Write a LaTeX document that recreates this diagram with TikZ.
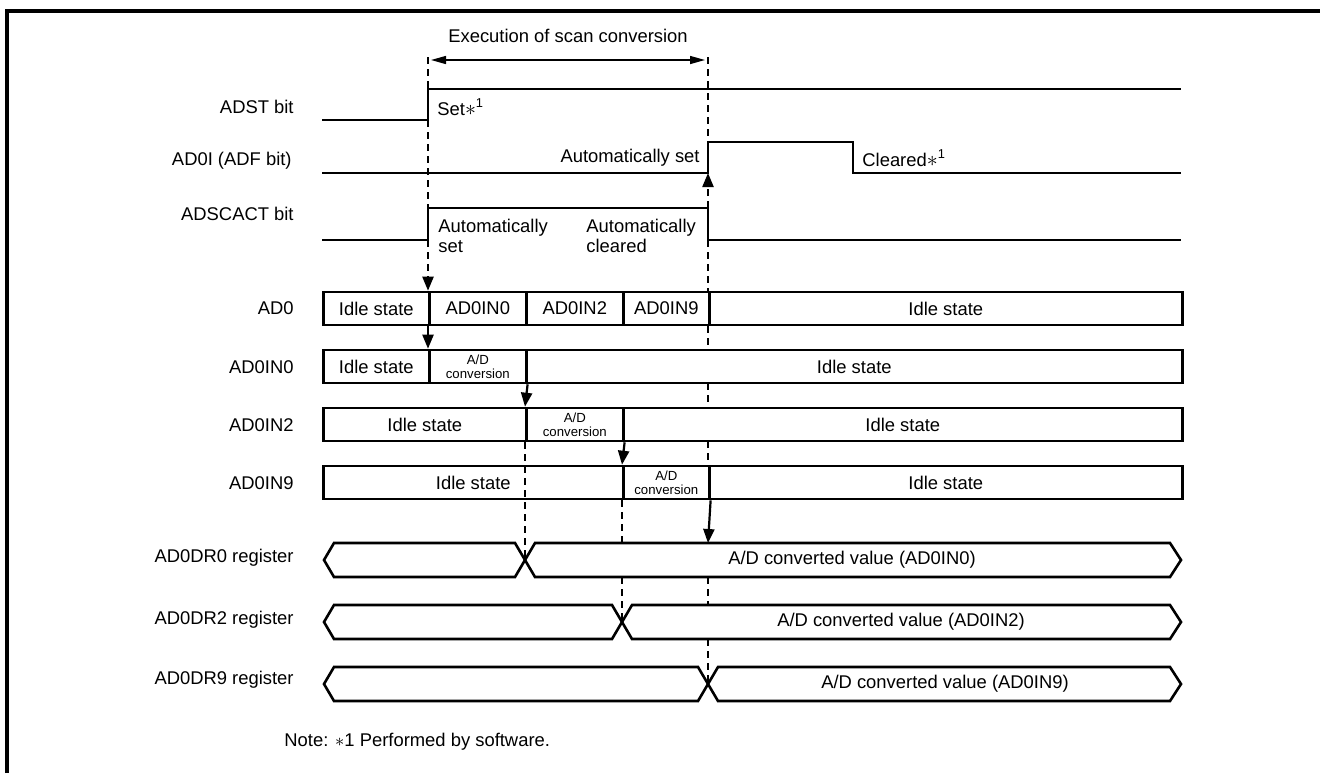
\documentclass[tikz,border=0pt]{standalone}
\usepackage{fontspec}
\setmainfont{Liberation Sans}
\usetikzlibrary{arrows.meta}

\newcommand{\swmark}{{\fontsize{11}{11}\selectfont$\ast$}\textsuperscript{1}}

\tikzset{
  sig/.style={line width=1.3pt},
  guide/.style={line width=1.1pt, dash pattern=on 3.5pt off 2.5pt},
  tip/.style={-{Triangle[length=7pt,width=5.5pt]}},
  flow/.style={line width=1.1pt, tip},
  cell/.style={draw, line width=1.3pt, anchor=west, minimum height=16.5pt, inner sep=0pt,
    font=\fontsize{9.2}{10}\selectfont},
  adc/.style={cell, font=\fontsize{6.6}{7}\selectfont, align=center},
  lbl/.style={anchor=east, inner sep=0pt, font=\fontsize{9.2}{10}\selectfont},
  txt/.style={inner sep=0pt, font=\fontsize{9.2}{10}\selectfont},
}

\begin{document}
\begin{tikzpicture}[x=0.5pt, y=-0.5pt]
  \useasboundingbox (0,0) rectangle (1320,773);
  \draw[line width=1.6pt] (7,773) -- (7,11) -- (1320,11);

  % signal names
  \node[lbl] (n-adst) at (294,107) {ADST bit};
  \node[lbl] (n-adf) at (292,161) {AD0I (ADF bit)};
  \node[lbl] (n-scact) at (294,214) {ADSCACT bit};
  \node[lbl] (n-ad0) at (294,308) {AD0};
  \node[lbl] (n-in0) at (294,367) {AD0IN0};
  \node[lbl] (n-in2) at (294,425) {AD0IN2};
  \node[lbl] (n-in9) at (294,483) {AD0IN9};
  \node[lbl] (n-dr0) at (294,558) {AD0DR0 register};
  \node[lbl] (n-dr2) at (294,620) {AD0DR2 register};
  \node[lbl] (n-dr9) at (294,680) {AD0DR9 register};

  % execution span
  \node[txt] (exec) at (568,36) {Execution of scan conversion};
  \coordinate (span-l) at (431,60);
  \coordinate (span-r) at (705,60);
  \draw[line width=0.7pt, {Triangle[length=7.5pt,width=4pt]}-{Triangle[length=7.5pt,width=4pt]}] (span-l) -- (span-r);

  % bit waveforms
  \draw[sig] (322,120) -- (428,120) -- (428,89) -- (1181,89);
  \node[txt, anchor=west] (t-set) at (437,107) {Set\swmark};
  \draw[sig] (322,173) -- (708,173) -- (708,142) -- (853,142) -- (853,173) -- (1181,173);
  \node[txt, anchor=east] (t-autoset) at (700,158) {Automatically set};
  \node[txt, anchor=west] (t-clr) at (862,158) {Cleared\swmark};
  \draw[sig] (322,240) -- (428,240) -- (428,208) -- (708,208) -- (708,240) -- (1181,240);
  \node[txt, anchor=west, align=left] (t-scset) at (438,236) {Automatically\\set};
  \node[txt, anchor=west, align=left] (t-scclr) at (586,236) {Automatically\\cleared};

  % AD0 channel sequence
  \node[cell, minimum width=53pt] (ad0-a) at (322,308.5) {Idle state};
  \node[cell, minimum width=48.5pt] (ad0-b) at (428,308.5) {AD0IN0};
  \node[cell, minimum width=48.5pt] (ad0-c) at (525,308.5) {AD0IN2};
  \node[cell, minimum width=43pt] (ad0-d) at (622,308.5) {AD0IN9};
  \node[cell, minimum width=236.5pt] (ad0-e) at (708,308.5) {Idle state};

  \node[cell, minimum width=53pt] (in0-a) at (322,366.5) {Idle state};
  \node[adc, minimum width=48.5pt] (in0-b) at (428,366.5) {A/D\\conversion};
  \node[cell, minimum width=328pt] (in0-c) at (525,366.5) {Idle state};

  \node[cell, minimum width=101.5pt] (in2-a) at (322,424.5) {Idle state};
  \node[adc, minimum width=48.5pt] (in2-b) at (525,424.5) {A/D\\conversion};
  \node[cell, minimum width=279.5pt] (in2-c) at (622,424.5) {Idle state};

  \node[cell, minimum width=150pt] (in9-a) at (322,482.5) {Idle state};
  \node[adc, minimum width=43pt] (in9-b) at (622,482.5) {A/D\\conversion};
  \node[cell, minimum width=236.5pt] (in9-c) at (708,482.5) {Idle state};

  % result registers
  \draw[sig] (324,560) -- (334,543) -- (515,543) -- (525,560) -- (515,577) -- (334,577) -- cycle;
  \draw[sig] (525,560) -- (535,543) -- (1170,543) -- (1181,560) -- (1170,577) -- (535,577) -- cycle;
  \node[txt] (v-dr0) at (852,560) {A/D converted value (AD0IN0)};
  \draw[sig] (324,622) -- (334,605) -- (612,605) -- (622,622) -- (612,639) -- (334,639) -- cycle;
  \draw[sig] (622,622) -- (632,605) -- (1170,605) -- (1181,622) -- (1170,639) -- (632,639) -- cycle;
  \node[txt] (v-dr2) at (901,622) {A/D converted value (AD0IN2)};
  \draw[sig] (324,684) -- (334,667) -- (698,667) -- (708,684) -- (698,701) -- (334,701) -- cycle;
  \draw[sig] (708,684) -- (718,667) -- (1170,667) -- (1181,684) -- (1170,701) -- (718,701) -- cycle;
  \node[txt] (v-dr9) at (945,684) {A/D converted value (AD0IN9)};
  \coordinate (x-dr0) at (525,560);
  \coordinate (x-dr2) at (622,622);
  \coordinate (x-dr9) at (708,684);

  % timing guides
  \draw[guide] (428,57) -- (428,89);
  \draw[guide] (428,120) -- (428,208);
  \draw[guide, tip] (428,240) -- (ad0-b.north west);
  \draw[guide] (708,57) -- (708,142);
  \draw[guide, tip] (708,208) -- (708,173);
  \draw[guide] (708,240) -- (ad0-e.north west);
  \draw[guide] (ad0-e.south west) -- (708,350);
  \draw[guide] (708,383) -- (708,408);
  \draw[guide] (708,441) -- (in9-c.north west);
  \draw[guide] (708,577) -- (708,605);
  \draw[guide] (708,639) -- (x-dr9);
  \draw[guide] (in2-b.south west) -- (x-dr0);
  \draw[guide] (in9-b.south west) -- (622,543);
  \draw[guide] (622,577) -- (x-dr2);

  % hand-over between channels
  \draw[flow] (ad0-b.south west) -- (in0-b.north west);
  \draw[flow] (in0-b.south east) -- (in2-b.north west);
  \draw[flow] (in2-b.south east) -- (in9-b.north west);
  \draw[flow] (in9-b.south east) -- (708,543);

  \node[txt, anchor=west] (note) at (284,742) {Note: $\ast$1 Performed by software.};
\end{tikzpicture}
\end{document}
